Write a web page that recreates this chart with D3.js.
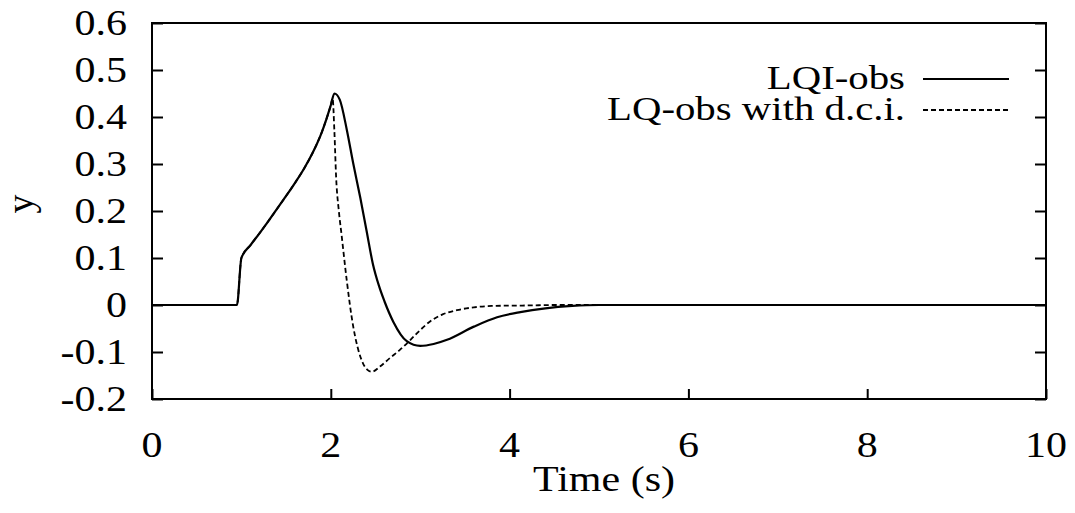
<!DOCTYPE html>
<html>
<head>
<meta charset="utf-8">
<script src="https://cdn.jsdelivr.net/npm/d3@7"></script>
<style>
  html, body { margin: 0; padding: 0; background: #fff; }
  svg { display: block; }
  text { font-family: "Liberation Serif", "Times New Roman", serif; fill: #000; }
</style>
</head>
<body>
<svg id="chart" width="1075" height="513"></svg>
<script>
// ---- data ----
const xTicks = [0, 2, 4, 6, 8, 10];
const yTicks = [-0.2, -0.1, 0, 0.1, 0.2, 0.3, 0.4, 0.5, 0.6];
const xTickLabels = ["0", "2", "4", "6", "8", "10"];
const yTickLabels = ["-0.2", "-0.1", "0", "0.1", "0.2", "0.3", "0.4", "0.5", "0.6"];
const seriesNames = ["LQI-obs", "LQ-obs with d.c.i."];

// LQI-obs (solid)
const lqiTime = [0, 0.95, 1.0, 1.1, 1.2, 1.3, 1.4, 1.5, 1.6, 1.7, 1.8, 1.9, 1.95, 2.0, 2.04, 2.1, 2.18, 2.25, 2.33, 2.4, 2.47, 2.54, 2.6, 2.7, 2.85, 3.0, 3.15, 3.3, 3.6, 3.86, 4.12, 4.4, 4.7, 5.0, 6, 8, 10];
const lqiY    = [0, 0, 0.10, 0.127, 0.152, 0.178, 0.205, 0.232, 0.26, 0.29, 0.325, 0.368, 0.395, 0.425, 0.45, 0.437, 0.372, 0.302, 0.228, 0.158, 0.088, 0.040, 0.008, -0.036, -0.077, -0.087, -0.083, -0.074, -0.046, -0.026, -0.015, -0.007, -0.002, 0, 0, 0, 0];

// LQ-obs with d.c.i. (dashed)
const lqTime = [0, 0.95, 1.0, 1.1, 1.2, 1.3, 1.4, 1.5, 1.6, 1.7, 1.8, 1.9, 1.95, 2.0, 2.02, 2.04, 2.06, 2.09, 2.12, 2.18, 2.25, 2.3, 2.36, 2.41, 2.46, 2.55, 2.66, 2.77, 2.85, 2.98, 3.11, 3.25, 3.41, 3.6, 3.8, 4.2, 4.5, 6, 8, 10];
const lqY    = [0, 0, 0.10, 0.127, 0.152, 0.178, 0.205, 0.232, 0.26, 0.29, 0.325, 0.368, 0.395, 0.425, 0.44, 0.37, 0.27, 0.2, 0.15, 0.05, -0.045, -0.09, -0.124, -0.138, -0.142, -0.131, -0.113, -0.096, -0.082, -0.057, -0.035, -0.02, -0.011, -0.005, -0.002, -0.001, 0, 0, 0, 0];

// ---- layout ----
const svg = d3.select("#chart");
const L = 152, R = 1046, T = 23, B = 399;
const x = d3.scaleLinear().domain([0, 10]).range([L, R]);
const y = d3.scaleLinear().domain([-0.2, 0.6]).range([B, T]);
const FS = 35, SX = 1.2;

function stext(px, py, str, anchor, fs) {
  return svg.append("text")
    .attr("transform", `translate(${px},${py}) scale(${SX},1)`)
    .attr("text-anchor", anchor).attr("font-size", fs || FS).text(str);
}

// frame
svg.append("rect").attr("x", L).attr("y", T).attr("width", R - L).attr("height", B - T)
  .attr("fill", "none").attr("stroke", "#000").attr("stroke-width", 2);

// left y axis ticks (inward)
const gL = svg.append("g").attr("transform", `translate(${L},0)`)
  .call(d3.axisLeft(y).tickValues(yTicks).tickSize(-11).tickFormat(""));
gL.select(".domain").remove();
gL.selectAll(".tick line").attr("stroke", "#000").attr("stroke-width", 2);

// right y axis ticks (inward)
const gR = svg.append("g").attr("transform", `translate(${R},0)`)
  .call(d3.axisRight(y).tickValues(yTicks).tickSize(-11).tickFormat(""));
gR.select(".domain").remove();
gR.selectAll(".tick line").attr("stroke", "#000").attr("stroke-width", 2);

// bottom x axis ticks (inward)
const gB = svg.append("g").attr("transform", `translate(0,${B})`)
  .call(d3.axisBottom(x).tickValues(xTicks).tickSize(-10).tickFormat(""));
gB.select(".domain").remove();
gB.selectAll(".tick line").attr("stroke", "#000").attr("stroke-width", 2);

// tick labels
yTicks.forEach((v, i) => stext(127, y(v) + 12, yTickLabels[i], "end"));
xTicks.forEach((v, i) => stext(x(v), 457, xTickLabels[i], "middle"));

// axis titles
stext((L + R) / 2 + 5, 491, "Time (s)", "middle");
svg.append("text").attr("transform", "translate(33,204) rotate(-90)").attr("text-anchor", "middle")
  .attr("font-size", FS + 3).text("y");

// lines
const line = d3.line().x(d => x(d[0])).y(d => y(d[1])).curve(d3.curveMonotoneX);
const solidData = d3.zip(lqiTime, lqiY);
const dashData = d3.zip(lqTime, lqY);

svg.append("path").datum(dashData).attr("d", line).attr("fill", "none")
  .attr("stroke", "#000").attr("stroke-width", 1.8).attr("stroke-dasharray", "5,3");
svg.append("path").datum(solidData).attr("d", line).attr("fill", "none")
  .attr("stroke", "#000").attr("stroke-width", 2.2);

// legend
const legendRows = [
  { name: seriesNames[0], dash: null, ly: 79, ty: 89 },
  { name: seriesNames[1], dash: "5,3", ly: 110, ty: 120 }
];
legendRows.forEach(r => {
  stext(905, r.ty, r.name, "end", 34);
  svg.append("line").attr("x1", 923).attr("x2", 1009).attr("y1", r.ly).attr("y2", r.ly)
    .attr("stroke", "#000").attr("stroke-width", r.dash ? 1.8 : 2)
    .attr("stroke-dasharray", r.dash);
});
</script>
</body>
</html>
